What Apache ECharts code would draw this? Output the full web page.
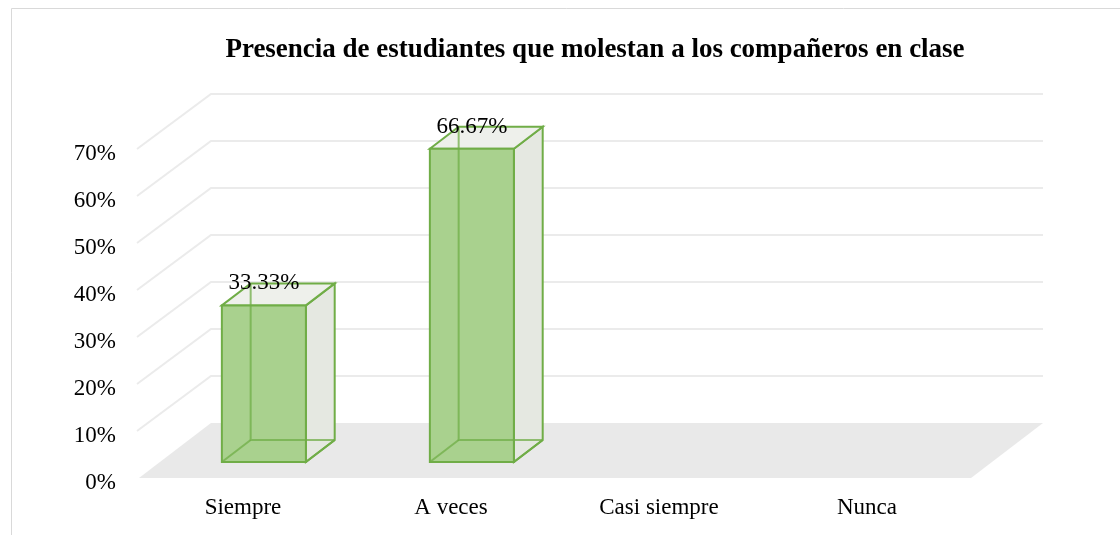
<!DOCTYPE html>
<html>
<head>
<meta charset="utf-8">
<script src="https://cdn.jsdelivr.net/npm/echarts@6/dist/echarts.min.js"></script>
<style>
  html, body { margin: 0; padding: 0; background: #fff; }
  #chart { width: 1120px; height: 535px; }
</style>
</head>
<body>
<div id="chart"></div>
<script>
var titleText = 'Presencia de estudiantes que molestan a los compañeros en clase';
var categories = ['Siempre', 'A veces', 'Casi siempre', 'Nunca'];
var values = [0.3333, 0.6667, 0, 0];
var yTicks = [0, 0.1, 0.2, 0.3, 0.4, 0.5, 0.6, 0.7];

// oblique 3d look (pixels)
var depthX = 72, depthY = -55;
var barFront = 0.29, barBack = 0.69;
var barRatio = 0.404;

var fontFam = "'Liberation Serif', 'Times New Roman', serif";

var chartDom = document.getElementById('chart');
var myChart = echarts.init(chartDom);

function pct(v) {
    return (v * 100).toFixed(2) + '%';
}

function renderWalls(params, api) {
    var cs = params.coordSys;
    var x0 = cs.x, x1 = cs.x + cs.width;
    var base = api.coord([0, 0])[1];
    var kids = [];
    kids.push({
        type: 'polygon',
        shape: { points: [[x0, base], [x1, base], [x1 + depthX, base + depthY], [x0 + depthX, base + depthY]] },
        style: { fill: '#e9e9e9' }
    });
    for (var i = 1; i < yTicks.length; i++) {
        var y = api.coord([0, yTicks[i]])[1];
        kids.push({
            type: 'polyline',
            shape: { points: [[x0 - 2, y], [x0 + depthX, y + depthY], [x1 + depthX, y + depthY]] },
            style: { stroke: '#ebebeb', lineWidth: 2, fill: null }
        });
    }
    return { type: 'group', children: kids };
}

function renderBox(params, api) {
    var v = api.value(1);
    if (!v) return null;
    var top = api.coord([api.value(0), v]);
    var bot = api.coord([api.value(0), 0]);
    var w = api.size([1, 0])[0] * barRatio;
    var fx = barFront * depthX, fy = barFront * depthY;
    var bx = barBack * depthX, by = barBack * depthY;
    var l = top[0] - w / 2 + fx, r = top[0] + w / 2 + fx;
    var t = top[1] + fy, b = bot[1] + fy;
    var dx = bx - fx, dy = by - fy;
    var edge = '#70ad47';
    var kids = [
        // side face
        { type: 'polygon', shape: { points: [[r, t], [r + dx, t + dy], [r + dx, b + dy], [r, b]] },
          style: { fill: '#e5e8e1', stroke: edge, lineWidth: 2 } },
        // top face
        { type: 'polygon', shape: { points: [[l, t], [l + dx, t + dy], [r + dx, t + dy], [r, t]] },
          style: { fill: '#eef0eb', stroke: edge, lineWidth: 2 } },
        // hidden edges seen through the side
        { type: 'line', shape: { x1: r, y1: b, x2: r + dx, y2: b + dy },
          style: { stroke: edge, lineWidth: 2 } },
        // front face
        { type: 'rect', shape: { x: l, y: t, width: r - l, height: b - t },
          style: { fill: '#a9d18e', stroke: null } },
        // hidden edges seen through the front
        { type: 'polyline', shape: { points: [[l + dx, t + dy], [l + dx, b + dy], [r + dx, b + dy]] },
          style: { stroke: 'rgba(112,173,71,0.75)', lineWidth: 2, fill: null } },
        { type: 'line', shape: { x1: l, y1: b, x2: l + dx, y2: b + dy },
          style: { stroke: 'rgba(112,173,71,0.75)', lineWidth: 2 } },
        { type: 'rect', shape: { x: l, y: t, width: r - l, height: b - t },
          style: { fill: null, stroke: edge, lineWidth: 2 } },
        { type: 'text', x: top[0] + fx, y: t + dy,
          style: { text: pct(v), fill: '#000', font: '23px ' + fontFam, align: 'center', verticalAlign: 'middle' } }
    ];
    return { type: 'group', children: kids };
}

var boxData = values.map(function (v, i) { return [i, v]; });

var option = {
    backgroundColor: '#fff',
    animation: false,
    title: {
        text: titleText,
        left: 590,
        top: 32,
        textAlign: 'center',
        textStyle: { fontFamily: fontFam, fontWeight: 'bold', fontSize: 27, color: '#000' }
    },
    graphic: [{
        type: 'rect',
        shape: { x: 11.5, y: 8.5, width: 1200, height: 600 },
        style: { fill: null, stroke: '#d9d9d9', lineWidth: 1 },
        silent: true
    }],
    grid: { left: 139, right: 149, top: 149, bottom: 57 },
    xAxis: {
        type: 'category',
        data: categories,
        axisLine: { show: false },
        axisTick: { show: false },
        axisLabel: { margin: 18, color: '#000', fontFamily: fontFam, fontSize: 23 }
    },
    yAxis: {
        type: 'value',
        min: 0,
        max: 0.7,
        interval: 0.1,
        splitLine: { show: false },
        axisLine: { show: false },
        axisTick: { show: false },
        axisLabel: {
            margin: 23,
            formatter: function (v) { return '{a|' + Math.round(v * 100) + '%}'; },
            rich: {
                a: { color: '#000', fontFamily: fontFam, fontSize: 23, padding: [9, 0, 0, 0] }
            }
        }
    },
    series: [{
        type: 'custom',
        renderItem: renderWalls,
        data: [[0, 0]],
        clip: false,
        silent: true,
        z: 1
    }, {
        type: 'custom',
        renderItem: renderBox,
        data: boxData,
        clip: false,
        z: 2
    }]
};

option && myChart.setOption(option);

window.addEventListener('resize', function () {
    myChart.resize();
});
</script>
</body>
</html>
